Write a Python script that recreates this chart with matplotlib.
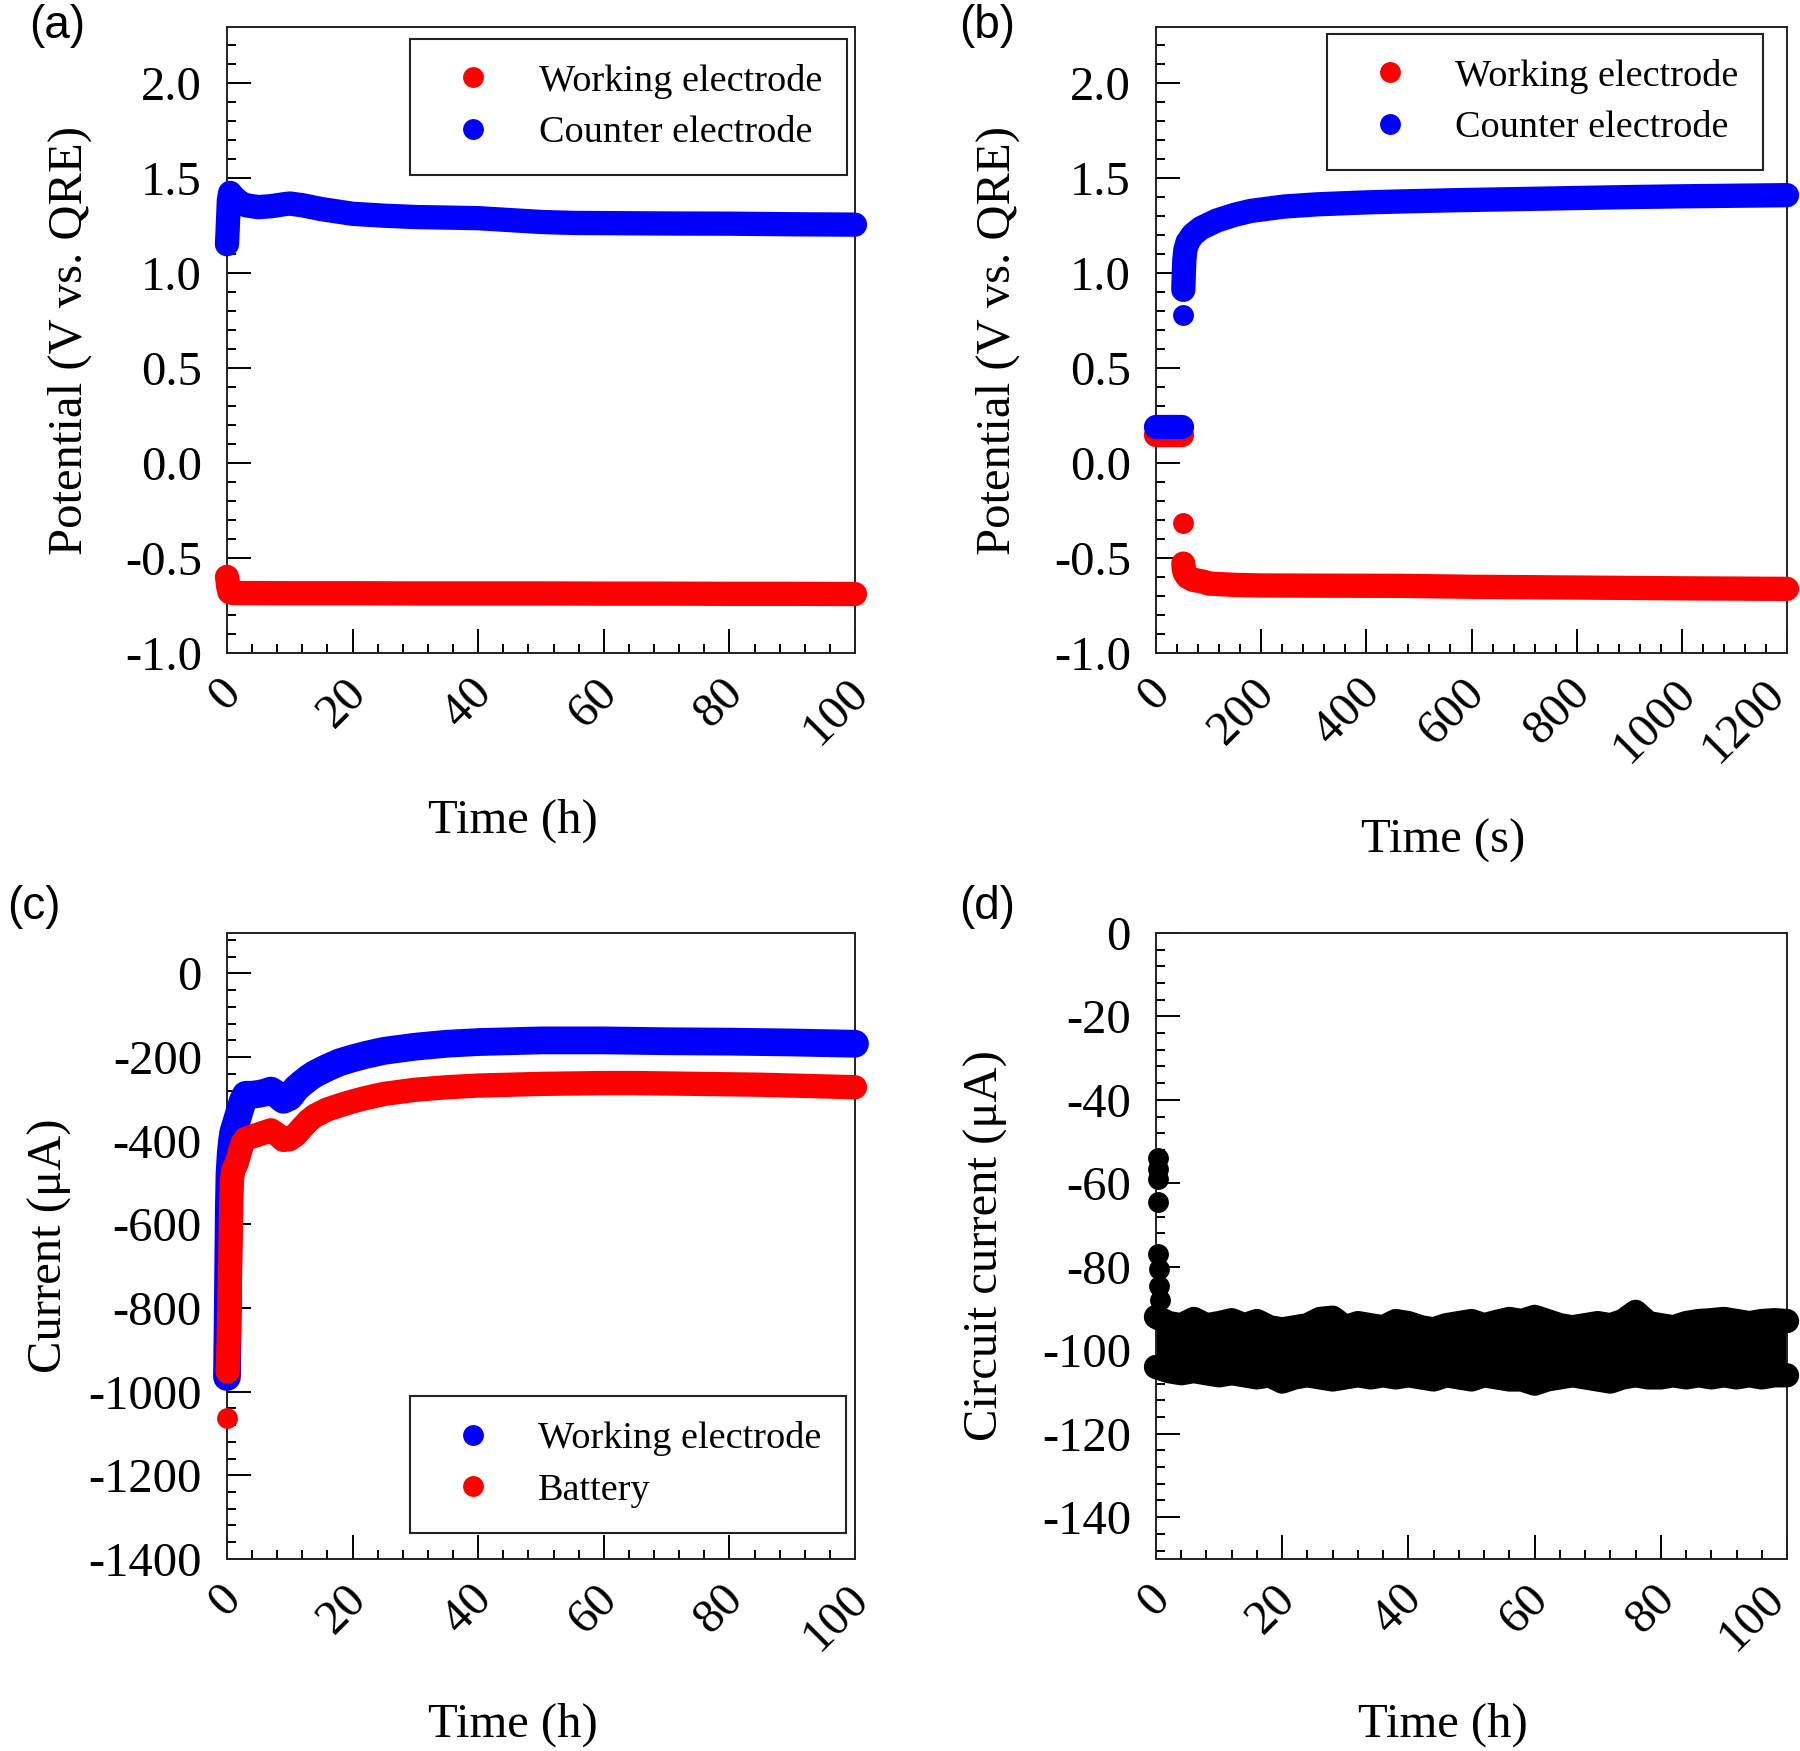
import matplotlib
matplotlib.use('Agg')
import matplotlib.pyplot as plt
import matplotlib.transforms as mtransforms
from matplotlib.lines import Line2D
from matplotlib.ticker import MultipleLocator, FormatStrFormatter

# === fonts ===
plt.rcParams['font.family'] = ['Liberation Serif', 'DejaVu Serif']
plt.rcParams['axes.unicode_minus'] = False

# === (a) potential vs time (h) ===
a_time_we = [0.0, 0.1, 0.2, 0.4, 1.0, 5.0, 10.0, 20.0, 30.0, 40.0, 50.0, 60.0, 70.0, 80.0, 90.0, 100.0]
a_we = [-0.60, -0.62, -0.65, -0.68, -0.685, -0.685, -0.686, -0.686, -0.687, -0.687, -0.687, -0.688,
        -0.688, -0.689, -0.689, -0.690]
a_time_ce = [0.0, 0.1, 0.2, 0.3, 0.5, 1.0, 2.0, 3.0, 5.0, 7.0, 9.0, 10.0, 12.0, 15.0, 18.0, 20.0,
             25.0, 30.0, 35.0, 40.0, 45.0, 50.0, 55.0, 60.0, 70.0, 80.0, 90.0, 100.0]
a_ce = [1.15, 1.22, 1.30, 1.38, 1.42, 1.40, 1.37, 1.355, 1.345, 1.35, 1.36, 1.364, 1.355, 1.335,
        1.32, 1.31, 1.30, 1.293, 1.29, 1.287, 1.277, 1.267, 1.262, 1.261, 1.259, 1.258, 1.255, 1.253]

# === (b) potential vs time (s) ===
b_time_we = [0, 10, 20, 30, 40, 50, 51, 52, 53, 55, 60, 70, 90, 100, 150, 200, 300, 466, 600, 800,
             1000, 1200]
b_we = [0.147, 0.147, 0.147, 0.147, 0.147, 0.147, -0.315, -0.53, -0.56, -0.58, -0.60, -0.615, -0.625,
        -0.635, -0.642, -0.645, -0.646, -0.647, -0.652, -0.656, -0.660, -0.663]
b_time_ce = [0, 10, 20, 30, 40, 50, 51, 52, 53, 54, 56, 60, 70, 85, 116, 150, 180, 243, 307, 400,
             466, 561, 700, 800, 900, 1000, 1100, 1200]
b_ce = [0.19, 0.19, 0.19, 0.19, 0.19, 0.19, 0.778, 0.91, 1.00, 1.07, 1.12, 1.16, 1.20, 1.234, 1.275,
        1.305, 1.325, 1.348, 1.36, 1.37, 1.375, 1.381, 1.388, 1.393, 1.398, 1.402, 1.405, 1.408]
b_gaps = [50, 51]  # line breaks after these times

# === (c) current vs time (h) ===
c_time_we = [0.0, 0.1, 0.2, 0.3, 0.4, 0.6, 0.8, 1.0, 1.5, 2.0, 2.5, 3.0, 4.0, 5.0, 6.0, 7.0, 8.0,
             9.0, 10.0, 11.0, 12.0, 13.0, 14.0, 16.0, 18.0, 20.0, 22.0, 25.0, 30.0, 35.0, 40.0,
             50.0, 60.0, 70.0, 80.0, 90.0, 100.0]
c_we = [-965, -850, -700, -560, -480, -430, -400, -380, -355, -330, -305, -290, -290, -288, -285,
        -280, -290, -302, -295, -275, -262, -250, -240, -225, -212, -203, -195, -185, -175, -168,
        -164, -160, -160, -162, -163, -165, -168]
c_time_bat = [0.0, 0.1, 0.2, 0.3, 0.4, 0.5, 0.6, 0.7, 0.8, 1.0, 1.5, 2.0, 2.5, 3.0, 4.0, 5.0, 6.0,
              7.0, 8.0, 9.0, 10.0, 11.0, 12.0, 13.0, 14.0, 16.0, 18.0, 20.0, 22.0, 25.0, 30.0,
              35.0, 40.0, 45.0, 50.0, 55.0, 60.0, 65.0, 70.0, 75.0, 80.0, 85.0, 90.0, 95.0, 100.0]
c_bat = [-1064, -952, -910, -850, -780, -700, -620, -540, -490, -470, -455, -430, -405, -395, -390,
         -385, -380, -375, -385, -398, -396, -385, -368, -352, -340, -325, -315, -306, -298, -288,
         -278, -272, -268, -266, -264, -263, -262, -262, -263, -264, -265, -266, -268, -270, -272]
c_gaps = [0.0]

# === (d) circuit current vs time (h) ===
d_spike_t = [0.3, 0.35, 0.3, 0.35, 0.4, 0.45, 0.5, 0.6]
d_spike = [-54, -56.5, -59, -64.5, -77, -80.5, -84.5, -88]
d_time = [0, 2, 4, 6, 8, 10, 12, 14, 16, 18, 20, 22, 24, 26, 28, 30, 32, 34, 36, 38, 40, 42, 44,
          46, 48, 50, 52, 54, 56, 58, 60, 62, 64, 66, 68, 70, 72, 74, 76, 78, 80, 82, 84, 86, 88,
          90, 92, 94, 96, 98, 100]
d_upper = [-92, -93.5, -94, -92.5, -94, -93.5, -92.8, -94, -93, -94.5, -95, -94.5, -94, -92.5,
           -92.2, -94.5, -93.5, -94, -94.5, -93, -93.5, -94.5, -95, -94, -93.5, -93, -94, -93.2,
           -92.5, -93, -92, -93, -94, -94.5, -94, -93.5, -94, -93, -90.8, -93.5, -94, -94.5,
           -93.5, -93, -92.8, -92.5, -93, -93.5, -93, -92.8, -93]
d_lower = [-104, -105, -105.5, -105, -105.5, -106, -105.5, -106, -106.5, -106, -107.5, -106.5,
           -106, -106.5, -107, -106.5, -106, -106.5, -106, -106.5, -106, -106.5, -107, -106,
           -106.5, -107, -106, -106.5, -107, -107, -108, -107, -106.5, -106, -106.5, -107,
           -107.5, -106.5, -106, -106.5, -106.5, -106, -106.5, -106, -106.5, -106, -106.5, -106,
           -106.5, -106, -106]

MS = 15    # marker diameter (pt)
LW = 17.5  # width of the dense-marker band (pt)


def draw_band(ax, t, v, color, lw=LW, gaps=()):
    # split into segments where the record jumps
    seg_t, seg_v = [], []
    for ti, vi in zip(t, v):
        seg_t.append(ti)
        seg_v.append(vi)
        if ti in gaps:
            ax.plot(seg_t, seg_v, '-o', color=color, ms=MS, mew=0, lw=lw,
                    solid_capstyle='round', solid_joinstyle='round', clip_on=False, zorder=3)
            seg_t, seg_v = [], []
    if seg_t:
        ax.plot(seg_t, seg_v, '-o', color=color, ms=MS, mew=0, lw=lw,
                solid_capstyle='round', solid_joinstyle='round', clip_on=False, zorder=3)


def style_axes(ax, xmaj, xmin, ymaj, ymin, yfmt):
    ax.xaxis.set_major_locator(MultipleLocator(xmaj))
    ax.xaxis.set_minor_locator(MultipleLocator(xmin))
    ax.yaxis.set_major_locator(MultipleLocator(ymaj))
    ax.yaxis.set_minor_locator(MultipleLocator(ymin))
    ax.yaxis.set_major_formatter(FormatStrFormatter(yfmt))
    ax.tick_params(which='both', direction='in', top=False, right=False, width=1.4,
                   labelsize=35, colors='black')
    ax.tick_params(which='major', length=17)
    ax.tick_params(which='minor', length=6.3)
    ax.tick_params(axis='y', pad=18)
    ax.tick_params(axis='x', pad=24)
    for sp in ax.spines.values():
        sp.set_linewidth(1.4)
        sp.set_color('#222222')
    xmax = ax.get_xlim()[1]
    at_edge = ax.get_position().x1 > 0.95
    for lab in ax.get_xticklabels():
        lab.set_rotation(45)
        lab.set_ha('right')
        lab.set_va('center')
        lab.set_rotation_mode('anchor')
        dx = 7
        if at_edge and abs(lab.get_position()[0] - xmax) < 1e-9:
            dx = -9  # keep the last label inside the figure edge
        shift = mtransforms.ScaledTranslation(dx / 100, 0, ax.figure.dpi_scale_trans)
        lab.set_transform(lab.get_transform() + shift)


def add_legend(ax, colors, labels, loc, anchor):
    handles = [Line2D([], [], ls='none', marker='o', ms=MS, mew=0, color=c) for c in colors]
    leg = ax.legend(handles, labels, loc=loc, bbox_to_anchor=anchor, borderaxespad=0,
                    fontsize=27.5, frameon=True, fancybox=False, edgecolor='#222222',
                    framealpha=1, handlelength=2.0, handletextpad=0.71, borderpad=0.65,
                    labelspacing=0.45)
    leg.get_frame().set_linewidth(1.5)


def set_labels(ax, xlabel, ylabel, xy, yx):
    ax.set_xlabel(xlabel, fontsize=35, va='center')
    ax.set_ylabel(ylabel, fontsize=35, va='center')
    ax.xaxis.set_label_coords(0.455, xy)
    ax.yaxis.set_label_coords(yx, 0.5)


fig = plt.figure(figsize=(18, 17.51), dpi=100)
ax_a = fig.add_axes([0.1261, 0.6271, 0.3489, 0.3572])
ax_b = fig.add_axes([0.6422, 0.6271, 0.3506, 0.3572])
ax_c = fig.add_axes([0.1261, 0.1097, 0.3489, 0.3575])
ax_d = fig.add_axes([0.6422, 0.1097, 0.3506, 0.3575])

# (a)
draw_band(ax_a, a_time_we, a_we, 'red')
draw_band(ax_a, a_time_ce, a_ce, 'blue')
ax_a.set_xlim(0, 100)
ax_a.set_ylim(-1.0, 2.29)
style_axes(ax_a, 20, 4, 0.5, 0.1, '%.1f')
set_labels(ax_a, 'Time (h)', 'Potential (V vs. QRE)', -0.268, -0.25)
add_legend(ax_a, ['red', 'blue'], ['Working electrode', 'Counter electrode'],
           'upper right', (0.987, 0.982))

# (b)
draw_band(ax_b, b_time_we, b_we, 'red', gaps=b_gaps)
draw_band(ax_b, b_time_ce, b_ce, 'blue', gaps=b_gaps)
ax_b.set_xlim(0, 1200)
ax_b.set_ylim(-1.0, 2.29)
style_axes(ax_b, 200, 40, 0.5, 0.1, '%.1f')
set_labels(ax_b, 'Time (s)', 'Potential (V vs. QRE)', -0.3, -0.25)
add_legend(ax_b, ['red', 'blue'], ['Working electrode', 'Counter electrode'],
           'upper right', (0.962, 0.990))

# (c)
draw_band(ax_c, c_time_we, c_we, 'blue', lw=20)
draw_band(ax_c, c_time_bat, c_bat, 'red', gaps=c_gaps)
ax_c.set_xlim(0, 100)
ax_c.set_ylim(-1400, 97)
style_axes(ax_c, 20, 4, 200, 40, '%d')
set_labels(ax_c, 'Time (h)', 'Current (μA)', -0.265, -0.282)
add_legend(ax_c, ['blue', 'red'], ['Working electrode', 'Battery'],
           'lower right', (0.986, 0.042))

# (d)
ax_d.fill_between(d_time, d_lower, d_upper, color='black', lw=0, clip_on=False, zorder=2)
draw_band(ax_d, d_time, d_upper, 'black')
draw_band(ax_d, d_time, d_lower, 'black')
ax_d.plot(d_spike_t, d_spike, 'o', color='black', ms=MS, mew=0, clip_on=False, zorder=3)
ax_d.set_xlim(0, 100)
ax_d.set_ylim(-150, 0)
style_axes(ax_d, 20, 4, 20, 4, '%d')
set_labels(ax_d, 'Time (h)', 'Circuit current (μA)', -0.265, -0.27)

# panel letters
for x, y, s in [(57, 26, '(a)'), (987, 26, '(b)'), (34, 907, '(c)'), (987, 907, '(d)')]:
    fig.text(x / 1800, 1 - y / 1751, s, ha='center', va='center', fontsize=33,
             family=['Liberation Sans', 'DejaVu Sans'])

fig.savefig('out.png', dpi=100)
plt.close(fig)
